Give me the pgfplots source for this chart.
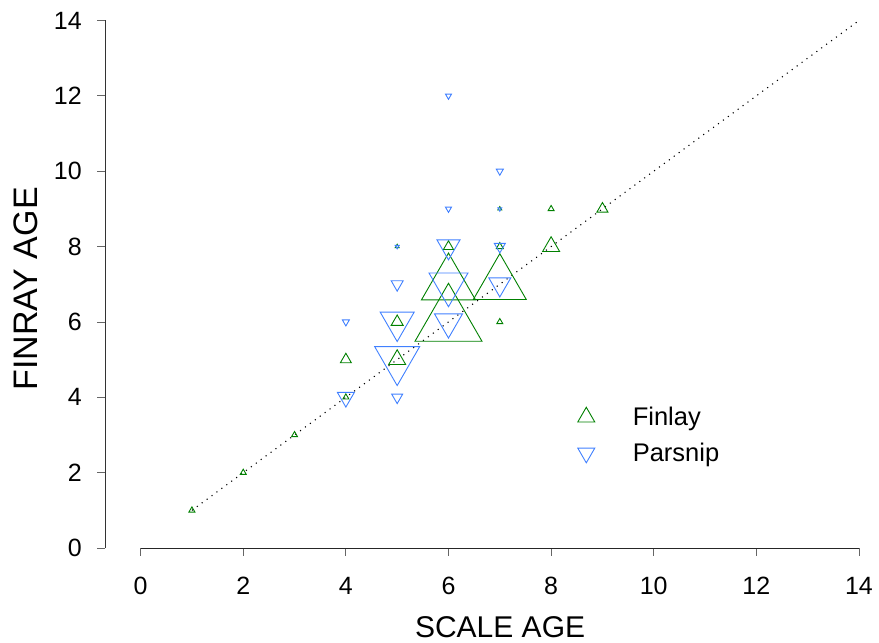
\documentclass[border=0pt]{standalone}
\usepackage{fontspec}
\setmainfont{Liberation Sans}
\usepackage{pgfplots}
\pgfplotsset{compat=1.18}
\usepackage{pgfplotstable}

\definecolor{fingreen}{RGB}{0,128,0}
\definecolor{parblue}{RGB}{64,128,255}

% scale age, finray age, triangle width (pt)
\pgfplotstableread{
x y w
1 1 6
2 2 6
3 3 6
4 4 6
4 5 11
5 5 17
5 6 12
5 8 4
6 6 67
6 7 54
6 8 10
7 6 6
7 7 53
7 8 7
7 9 4
8 8 17
8 9 6
9 9 11
}\finlay

\pgfplotstableread{
x y w
4 4 17
4 6 7
5 4 11
5 5 45
5 6 34
5 7 12
5 8 4
6 6 28
6 7 39
6 8 23
6 9 6
6 12 6
7 7 22
7 8 11
7 9 4
7 10 7
}\parsnip

\begin{document}
\begin{tikzpicture}[x=1pt,y=1pt]
\begin{axis}[
  at={(0,0)}, anchor=south west,
  scale only axis, width=754pt, height=527.5pt,
  xmin=-0.694, xmax=14, ymin=0, ymax=14,
  axis x line*=bottom, axis y line*=left,
  x axis line style={draw=none, -},
  y axis line style={black!80, line width=0.8pt, -},
  tick style={black!60, line width=0.8pt},
  tick align=outside, major tick length=7.7pt,
  xtick={0,2,...,14}, ytick={0,2,...,14},
  /pgf/number format/assume math mode=true,
  tick label style={font=\fontsize{25}{30}\selectfont},
  xticklabel style={yshift=-18pt},
  yticklabel style={xshift=-12pt},
  clip=false,
  xlabel={SCALE AGE}, ylabel={FINRAY AGE},
  xlabel style={at={(axis description cs:0.524,-0.1706)}, anchor=base,
    font=\fontsize{30}{36}\selectfont},
  ylabel style={at={(axis description cs:-0.0889,0.491)}, anchor=base,
    font=\fontsize{34}{40}\selectfont},
  legend cell align=left,
  legend image code/.code={\draw[mark repeat=2,mark phase=2,#1]
    plot coordinates {(0pt,0pt) (15pt,0pt) (30pt,0pt)};},
  legend style={at={(axis cs:8.52,3.74)}, anchor=north west,
    draw=none, fill=none, inner sep=0pt, outer sep=0pt,
    row sep=16pt, column sep=38pt,
    nodes={inner sep=0pt},
    font=\fontsize{25.5}{30}\selectfont},
]
% x axis line, spanning 0 to 14 only
\draw[black!85, line width=0.8pt] (axis cs:0,0) -- (axis cs:14,0);

% one-to-one reference line
\addplot[black, line width=1.1pt, dash pattern=on 1.1pt off 5pt, forget plot]
  coordinates {(1,1) (14,14)};

\addplot[forget plot, scatter, only marks, mark=triangle, line width=0.9pt,
  scatter/use mapped color={draw=fingreen, fill=none},
  visualization depends on={\thisrow{w}/1.732 \as \msz},
  scatter/@pre marker code/.append style={/tikz/mark size=\msz}]
  table[x=x, y=y] {\finlay};

\addplot[forget plot, scatter, only marks, mark=triangle, line width=0.9pt,
  mark options={rotate=180},
  scatter/use mapped color={draw=parblue, fill=none},
  visualization depends on={\thisrow{w}/1.732 \as \msz},
  scatter/@pre marker code/.append style={/tikz/mark size=\msz}]
  table[x=x, y=y] {\parsnip};

\addlegendimage{only marks, mark=triangle, draw=fingreen, mark size=9.8pt, line width=0.9pt}
\addlegendentry{Finlay}
\addlegendimage{only marks, mark=triangle, draw=parblue, mark size=9.8pt, line width=0.9pt,
  mark options={rotate=180}}
\addlegendentry{Parsnip}
\end{axis}
\pgfresetboundingbox
\path[use as bounding box] (-105,-95) rectangle (774,548);
\end{tikzpicture}
\end{document}
